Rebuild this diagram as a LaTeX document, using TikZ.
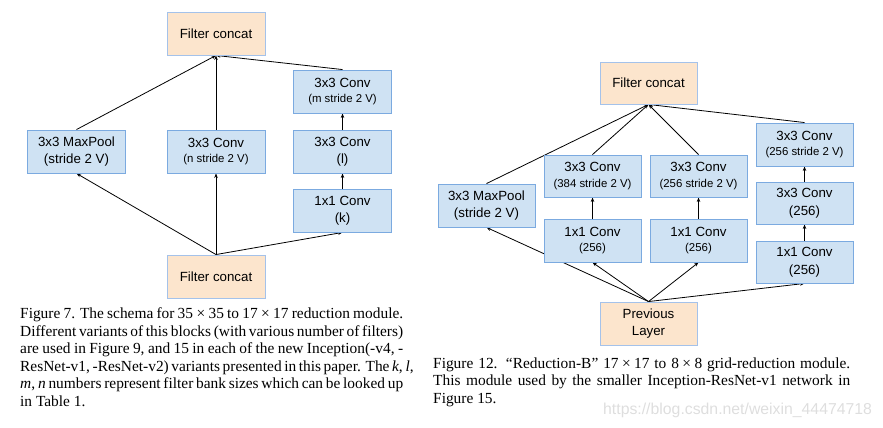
\documentclass[tikz,border=0pt]{standalone}
\usepackage{fontspec}
\setmainfont{Liberation Serif}
\newfontfamily\boxfont{Liberation Sans}
\usetikzlibrary{arrows.meta}
\pgfdeclarelayer{bg}
\pgfsetlayers{bg,main}
\definecolor{bfill}{HTML}{CFE2F3}
\definecolor{bdraw}{HTML}{7BAAE0}
\definecolor{ofill}{HTML}{FCE5CD}
\definecolor{odraw}{HTML}{A4C2EA}
\newcommand{\mainsz}{\fontsize{13.3}{17.5}\selectfont}
\newcommand{\subsz}{\fontsize{11.4}{14}\selectfont}
\newcommand{\tms}{\hspace{0.22em}×\hspace{0.22em}}
\tikzset{
  bluebox/.style={draw=bdraw, fill=bfill, line width=0.9pt, minimum width=98pt, minimum height=43pt, inner sep=0pt, align=center, font=\boxfont\mainsz},
  orbox/.style={draw=odraw, fill=ofill, line width=0.9pt, minimum width=98pt, minimum height=43pt, inner sep=0pt, align=center, font=\boxfont\mainsz},
  conn/.style={draw=black, line width=0.8pt, -{Stealth[length=4.5pt,width=3.5pt]}},
  capt/.style={anchor=base west, inner sep=0pt, align=left, font=\fontsize{15.4}{17.5}\selectfont}
}
\begin{document}
\begin{tikzpicture}[x=1pt,y=-1pt]
\useasboundingbox (0,0) rectangle (883,428);
% ---------- left diagram ----------
\node[orbox] (tc) at (216,33.5) {Filter concat};
\node[bluebox] (mp) at (76.5,151.5) {3x3 MaxPool\\(stride 2 V)};
\node[bluebox] (nc) at (216,151.5) {3x3 Conv\\[-2pt]{\subsz (n stride 2 V)}};
\node[bluebox] (mc) at (342.5,91.5) {3x3 Conv\\[-2pt]{\subsz (m stride 2 V)}};
\node[bluebox] (lc) at (342.5,151.5) {3x3 Conv\\(l)};
\node[bluebox] (kc) at (342.5,210.5) {1x1 Conv\\(k)};
\node[orbox] (bc) at (216,276.5) {Filter concat};
\begin{pgfonlayer}{bg}
\draw[conn] (mp.north) -- (tc.south);
\draw[conn] (nc.north) -- (tc.south);
\draw[conn] (mc.north) -- (tc.south);
\draw[conn] (lc.north) -- (mc.south);
\draw[conn] (kc.north) -- (lc.south);
\draw[conn] (bc.north) -- (mp.south);
\draw[conn] (bc.north) -- (nc.south);
\draw[conn] (bc.north) -- (kc.south);
\end{pgfonlayer}
% ---------- right diagram ----------
\node[orbox, minimum width=97pt, minimum height=42pt] (rtc) at (648.5,83) {Filter concat};
\node[bluebox, minimum width=97pt] (rmp) at (486.5,205.5) {3x3 MaxPool\\(stride 2 V)};
\node[bluebox, minimum width=97pt, minimum height=42pt] (ra) at (592.5,176) {3x3 Conv\\[-2pt]{\subsz (384 stride 2 V)}};
\node[bluebox, minimum width=97pt, minimum height=42pt] (rb) at (698.5,176) {3x3 Conv\\[-2pt]{\subsz (256 stride 2 V)}};
\node[bluebox, minimum width=97pt] (ra1) at (592.5,240.5) {1x1 Conv\\[-2pt]{\subsz (256)}};
\node[bluebox, minimum width=97pt] (rb1) at (698.5,240.5) {1x1 Conv\\[-2pt]{\subsz (256)}};
\node[bluebox, minimum width=97pt] (rs) at (804.5,144.5) {3x3 Conv\\[-2pt]{\subsz (256 stride 2 V)}};
\node[bluebox, minimum width=97pt, minimum height=42pt] (rm) at (804.5,203) {3x3 Conv\\(256)};
\node[bluebox, minimum width=97pt, minimum height=42pt] (rk) at (804.5,262) {1x1 Conv\\(256)};
\node[orbox, minimum width=97pt] (prev) at (648.5,323.5) {Previous\\Layer};
\begin{pgfonlayer}{bg}
\draw[conn] (rmp.north) -- (rtc.south);
\draw[conn] (ra.north) -- (rtc.south);
\draw[conn] (rb.north) -- (rtc.south);
\draw[conn] (rs.north) -- (rtc.south);
\draw[conn] (ra1.north) -- (ra.south);
\draw[conn] (rb1.north) -- (rb.south);
\draw[conn] (rm.north) -- (rs.south);
\draw[conn] (rk.north) -- (rm.south);
\draw[conn] (prev.north) -- (rmp.south);
\draw[conn] (prev.north) -- (ra1.south);
\draw[conn] (prev.north) -- (rb1.south);
\draw[conn] (prev.north) -- (rk.south);
\end{pgfonlayer}
% ---------- captions (anchored at the baseline of the last line) ----------
\node[capt] (capl) at (20,406) {%
\makebox[383pt][s]{Figure 7. The schema for 35\tms 35 to 17\tms 17 reduction module.}\\
\makebox[383pt][s]{Different variants of this blocks (with various number of filters)}\\
\makebox[383pt][s]{are used in Figure 9, and 15 in each of the new Inception(-v4, -}\\
\makebox[383pt][s]{ResNet-v1, -ResNet-v2) variants presented in this paper. The \textit{k}, \textit{l},}\\
\makebox[383pt][s]{\textit{m}, \textit{n} numbers represent filter bank sizes which can be looked up}\\
in Table 1.};
\node[capt] (capr) at (433,403) {%
\makebox[417pt][s]{Figure 12. “Reduction-B” 17\tms 17 to 8\tms 8 grid-reduction module.}\\
\makebox[417pt][s]{This module used by the smaller Inception-ResNet-v1 network in}\\
Figure 15.};
\node[anchor=base west, inner sep=0pt, text=black!13, font=\boxfont\fontsize{15.8}{18}\selectfont] (wm) at (603,414) {https://blog.csdn.net/weixin\_44474718};
\end{tikzpicture}
\end{document}
